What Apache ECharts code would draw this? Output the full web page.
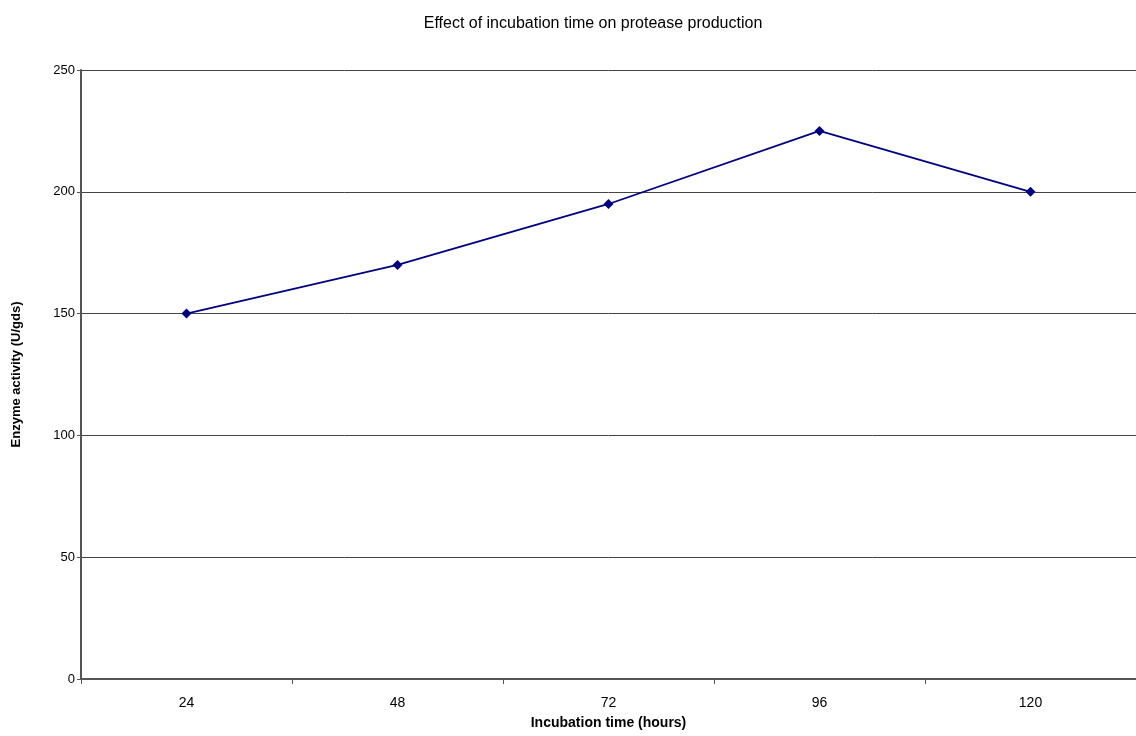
<!DOCTYPE html>
<html>
<head>
<meta charset="utf-8">
<script src="https://cdn.jsdelivr.net/npm/echarts@6/dist/echarts.min.js"></script>
<style>
html,body{margin:0;padding:0;background:#fff;}
#chart{width:1136px;height:736px;}
</style>
</head>
<body>
<div id="chart"></div>
<script>
const categories = ['24', '48', '72', '96', '120'];
const activity = [150, 170, 195, 225, 200];
const titleText = 'Effect of incubation time on protease production';

const chart = echarts.init(document.getElementById('chart'), null, {renderer: 'canvas'});
const font = '"Liberation Sans", Arial, sans-serif';
chart.setOption({
  animation: false,
  backgroundColor: '#ffffff',
  title: {
    text: titleText,
    left: 588, top: 11, textAlign: 'center',
    textStyle: {fontFamily: font, fontSize: 16, fontWeight: 'normal', color: '#000'}
  },
  grid: {left: 81, right: 0, top: 70, bottom: 57, containLabel: false},
  xAxis: {
    type: 'category',
    data: categories,
    boundaryGap: true,
    name: 'Incubation time (hours)',
    nameLocation: 'middle',
    nameGap: 37,
    nameTextStyle: {fontFamily: font, fontSize: 14, fontWeight: 'bold', color: '#000'},
    axisLine: {lineStyle: {color: '#555', width: 2}},
    axisTick: {show: true, alignWithLabel: false, length: 5, lineStyle: {color: '#555'}},
    axisLabel: {fontFamily: font, fontSize: 14, color: '#000', margin: 17},
    splitLine: {show: false}
  },
  yAxis: {
    type: 'value',
    min: 0, max: 250, interval: 50,
    name: 'Enzyme activity (U/gds)',
    nameLocation: 'middle',
    nameGap: 58,
    nameTextStyle: {fontFamily: font, fontSize: 13, fontWeight: 'bold', color: '#000'},
    axisLine: {show: true, lineStyle: {color: '#555', width: 2}},
    axisTick: {show: true, length: 4, lineStyle: {color: '#555'}},
    axisLabel: {fontFamily: font, fontSize: 13, color: '#000', margin: 6},
    splitLine: {show: true, lineStyle: {color: '#444', width: 1}}
  },
  series: [{
    type: 'line',
    data: activity,
    symbol: 'diamond',
    symbolSize: 10,
    lineStyle: {color: '#000080', width: 1.8},
    itemStyle: {color: '#000080'}
  }]
});
</script>
</body>
</html>
